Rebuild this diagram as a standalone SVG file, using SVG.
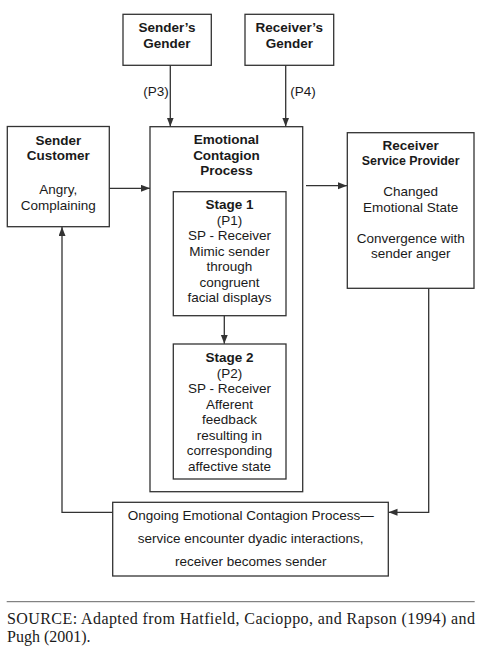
<svg xmlns="http://www.w3.org/2000/svg" width="487" height="653" viewBox="0 0 487 653">
<style>
.box{fill:#fff;stroke:#333;stroke-width:1.3}
.ln{fill:none;stroke:#333;stroke-width:1.3}
text{font-family:"Liberation Sans",Arial,sans-serif;font-size:13.5px;fill:#1a1a1a;text-anchor:middle}
.b{font-weight:bold}
.src{font-family:"Liberation Serif","Times New Roman",serif;font-size:16px;text-anchor:start;fill:#1a1a1a}
</style>
<defs>
<marker id="ah" markerUnits="userSpaceOnUse" markerWidth="10" markerHeight="8" refX="9" refY="3.5" orient="auto">
<path d="M0,0 L9,3.5 L0,7 z" fill="#333"/>
</marker>
</defs>
<rect width="487" height="653" fill="#fff"/>
<g id="senders-gender">
<rect class="box" x="123" y="14.3" width="88.3" height="51"/>
<text class="b" x="167" y="32">Sender’s</text>
<text class="b" x="167" y="47.5">Gender</text>
</g>
<g id="receivers-gender">
<rect class="box" x="245" y="14.3" width="88.7" height="51"/>
<text class="b" x="289.3" y="32">Receiver’s</text>
<text class="b" x="289.3" y="47.5">Gender</text>
</g>
<g id="sender-customer">
<rect class="box" x="7.3" y="126.5" width="102" height="100.2"/>
<text class="b" x="58.3" y="144.5">Sender</text>
<text class="b" x="58.3" y="160">Customer</text>
<text x="58.3" y="194">Angry,</text>
<text x="58.3" y="209.5">Complaining</text>
</g>
<g id="emotional-contagion-process">
<rect class="box" x="150" y="126.7" width="152.7" height="365"/>
<text class="b" x="226.5" y="144">Emotional</text>
<text class="b" x="226.5" y="159.5">Contagion</text>
<text class="b" x="226.5" y="175">Process</text>
</g>
<g id="stage1">
<rect class="box" x="173.3" y="191.7" width="112.7" height="124"/>
<text class="b" x="229.5" y="209">Stage 1</text>
<text x="229.5" y="224.5">(P1)</text>
<text x="229.5" y="240">SP - Receiver</text>
<text x="229.5" y="255.5">Mimic sender</text>
<text x="229.5" y="271">through</text>
<text x="229.5" y="286.5">congruent</text>
<text x="229.5" y="302">facial displays</text>
</g>
<g id="stage2">
<rect class="box" x="173.3" y="344" width="112.7" height="135"/>
<text class="b" x="229.5" y="362">Stage 2</text>
<text x="229.5" y="377.5">(P2)</text>
<text x="229.5" y="393">SP - Receiver</text>
<text x="229.5" y="408.5">Afferent</text>
<text x="229.5" y="424">feedback</text>
<text x="229.5" y="439.5">resulting in</text>
<text x="229.5" y="455">corresponding</text>
<text x="229.5" y="470.5">affective state</text>
</g>
<g id="receiver-service-provider">
<rect class="box" x="347.3" y="132.7" width="126.7" height="155.6"/>
<text class="b" x="410.7" y="150">Receiver</text>
<text class="b" x="410.7" y="165" style="font-size:12.4px">Service Provider</text>
<text x="410.7" y="196">Changed</text>
<text x="410.7" y="211.5">Emotional State</text>
<text x="410.7" y="242.5">Convergence with</text>
<text x="410.7" y="258">sender anger</text>
</g>
<g id="ongoing-process">
<rect class="box" x="112.7" y="502.3" width="275.6" height="73.7"/>
<text x="250.7" y="519.5">Ongoing Emotional Contagion Process—</text>
<text x="250.7" y="543">service encounter dyadic interactions,</text>
<text x="250.7" y="566">receiver becomes sender</text>
</g>
<g id="connectors">
<line class="ln" x1="170.3" y1="65.3" x2="170.3" y2="126.5" marker-end="url(#ah)"/>
<line class="ln" x1="285.7" y1="65.3" x2="285.7" y2="126.5" marker-end="url(#ah)"/>
<line class="ln" x1="109.3" y1="188.3" x2="150" y2="188.3" marker-end="url(#ah)"/>
<line class="ln" x1="306" y1="185.7" x2="347" y2="185.7" marker-end="url(#ah)"/>
<line class="ln" x1="224.3" y1="315.7" x2="224.3" y2="343.8" marker-end="url(#ah)"/>
<polyline class="ln" points="428.7,288.3 428.7,512.3 388.5,512.3" marker-end="url(#ah)"/>
<polyline class="ln" points="112.7,512.3 62,512.3 62,227" marker-end="url(#ah)"/>
<text x="156" y="96">(P3)</text>
<text x="303" y="96">(P4)</text>
</g>
<line x1="6.7" y1="601.7" x2="474.7" y2="601.7" stroke="#666" stroke-width="1"/>
<text class="src" x="7" y="623.5" textLength="468" lengthAdjust="spacing">SOURCE: Adapted from Hatfield, Cacioppo, and Rapson (1994) and</text>
<text class="src" x="7" y="642">Pugh (2001).</text>
</svg>
